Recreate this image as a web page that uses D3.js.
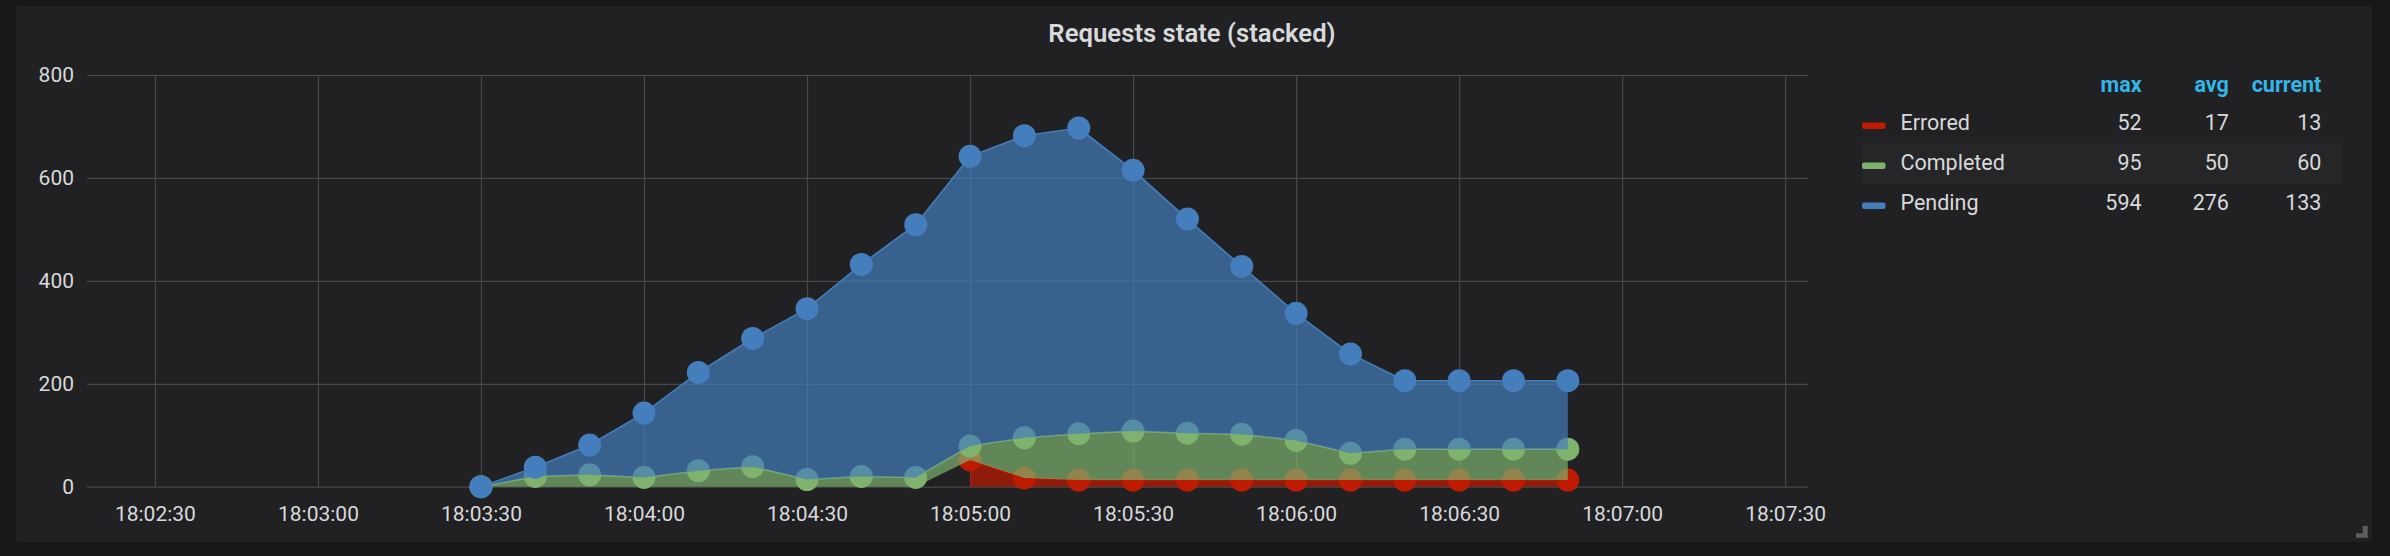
<!DOCTYPE html>
<html><head><meta charset="utf-8">
<script src="https://cdn.jsdelivr.net/npm/d3@7"></script>
<style>
html,body{margin:0;padding:0;background:#161719;overflow:hidden;}
svg{display:block;}
text{font-family:Roboto,"Noto Sans",sans-serif;}
</style></head><body>
<svg id="chart" width="2390" height="556"></svg>
<script>
// ---- data ----
const chartTitle = "Requests state (stacked)";
const times = ["18:03:30","18:03:40","18:03:50","18:04:00","18:04:10","18:04:20","18:04:30",
  "18:04:40","18:04:50","18:05:00","18:05:10","18:05:20","18:05:30","18:05:40","18:05:50",
  "18:06:00","18:06:10","18:06:20","18:06:30","18:06:40","18:06:50"];
const seriesNames = ["Errored","Completed","Pending"];
const seriesColors = ["#bf1b00","#7eb26d","#447ebc"];
const errored   = [null,null,null,null,null,null,null,null,null,52,17,13,13,13,13,13,13,13,13,13,13];
const completed = [0,20,23,18,31,39,14,20,18,27,78,90,95,91,89,77,52,60,60,60,60];
const pending   = [0,18,58,125,191,249,332,412,491,563,587,594,507,416,326,247,193,133,133,133,133];
const xTickLabels = ["18:02:30","18:03:00","18:03:30","18:04:00","18:04:30","18:05:00",
  "18:05:30","18:06:00","18:06:30","18:07:00","18:07:30"];
const yTickValues = [0,200,400,600,800];
const xDomainLabels = ["18:02:17.5","18:07:34.2"];
const legendHeaders = ["max","avg","current"];
const legendMax = [52,95,594];
const legendAvg = [17,50,276];
const legendCurrent = [13,60,133];

// ---- layout ----
const plot = {left:87, right:1808, top:75, bottom:486.7};
const parseT = d3.timeParse("%H:%M:%S");
const parseTms = d3.timeParse("%H:%M:%S.%L");
const parseAny = s => parseT(s) || parseTms(s.length===10 ? s+"00" : s);

const svg = d3.select("#chart");

// panel
svg.append("rect").attr("x",16).attr("y",6).attr("width",2356).attr("height",536)
  .attr("rx",3).attr("fill","#212124");

// title
svg.append("text").attr("x",1192).attr("y",42).attr("text-anchor","middle")
  .attr("fill","#d8d9da").attr("font-size",25.7).attr("font-weight",600).text(chartTitle);

const x = d3.scaleTime()
  .domain([parseAny(xDomainLabels[0]), parseAny(xDomainLabels[1])])
  .range([plot.left, plot.right]);
const y = d3.scaleLinear().domain([0,800]).range([plot.bottom, plot.top]);

const xTicks = xTickLabels.map(parseT);

// grid
const gridColor = "#48484b";
const gx = svg.append("g").attr("transform",`translate(0,${plot.bottom})`)
  .call(d3.axisBottom(x).tickValues(xTicks).tickSize(-(plot.bottom-plot.top)).tickFormat(""));
gx.select(".domain").remove();
gx.selectAll(".tick line").attr("stroke",gridColor).attr("stroke-width",1.2);
const gy = svg.append("g").attr("transform",`translate(${plot.left},0)`)
  .call(d3.axisLeft(y).tickValues(yTickValues).tickSize(-(plot.right-plot.left)).tickFormat(""));
gy.select(".domain").remove();
gy.selectAll(".tick line").attr("stroke",gridColor).attr("stroke-width",1.2);

// axis labels
const ax = svg.append("g").attr("transform",`translate(0,${plot.bottom})`)
  .call(d3.axisBottom(x).tickValues(xTicks).tickSize(0).tickPadding(19)
    .tickFormat(d3.timeFormat("%H:%M:%S")));
ax.select(".domain").remove();
ax.selectAll("text").attr("fill","#d8d9da").attr("font-size",21).attr("font-family","Roboto");
const ay = svg.append("g").attr("transform",`translate(${plot.left},0)`)
  .call(d3.axisLeft(y).tickValues(yTickValues).tickSize(0).tickPadding(13));
ay.select(".domain").remove();
ay.selectAll("text").attr("fill","#d8d9da").attr("font-size",21).attr("font-family","Roboto");

// stacked data
const rows = times.map((t,i)=>({t:parseT(t), errored:errored[i], completed:completed[i], pending:pending[i]}));
const keys = ["errored","completed","pending"];
const stacked = d3.stack().keys(keys).value((d,k)=> d[k]==null ? 0 : d[k])(rows);

const g = svg.append("g");
stacked.forEach((layer,si)=>{
  const key = keys[si], col = seriesColors[si];
  const def = d => d.data[key] != null;
  const area = d3.area().defined(def).x(d=>x(d.data.t)).y0(d=>y(d[0])).y1(d=>y(d[1]));
  const line = d3.line().defined(def).x(d=>x(d.data.t)).y(d=>y(d[1]));
  g.append("path").attr("d",area(layer)).attr("fill",col).attr("fill-opacity",0.7);
  g.append("path").attr("d",line(layer)).attr("fill","none").attr("stroke",col).attr("stroke-width",1.6);
  g.selectAll(null).data(layer.filter(def)).enter().append("circle")
    .attr("cx",d=>x(d.data.t)).attr("cy",d=>y(d[1])).attr("r",11.5).attr("fill",col);
});

// legend
const colX = [2141.6, 2228.9, 2321.4];
const lg = svg.append("g");
lg.selectAll(null).data(legendHeaders).enter().append("text")
  .attr("x",(d,i)=>colX[i]).attr("y",92).attr("text-anchor","end")
  .attr("fill","#33b5e5").attr("font-size",21.5).attr("font-weight",700).text(d=>d);
const rowBase = [130,170,210];
lg.append("rect").attr("x",1862).attr("y",143.5).attr("width",480).attr("height",40).attr("fill","#262629");
seriesNames.forEach((name,i)=>{
  lg.append("rect").attr("x",1862).attr("y",rowBase[i]-7.5).attr("width",23.5).attr("height",6.5)
    .attr("rx",2).attr("fill",seriesColors[i]);
  lg.append("text").attr("x",1900.5).attr("y",rowBase[i]).attr("fill","#d8d9da")
    .attr("font-size",21.5).text(name);
  [legendMax[i],legendAvg[i],legendCurrent[i]].forEach((v,j)=>{
    lg.append("text").attr("x",colX[j]).attr("y",rowBase[i]).attr("text-anchor","end")
      .attr("fill","#d8d9da").attr("font-size",21.5).text(v);
  });
});

// resize handle
svg.append("path").attr("d","M2362.7,526 H2367.7 V537.7 H2356 V533.3 H2362.7 Z").attr("fill","#5e5e60");
</script>
</body></html>
